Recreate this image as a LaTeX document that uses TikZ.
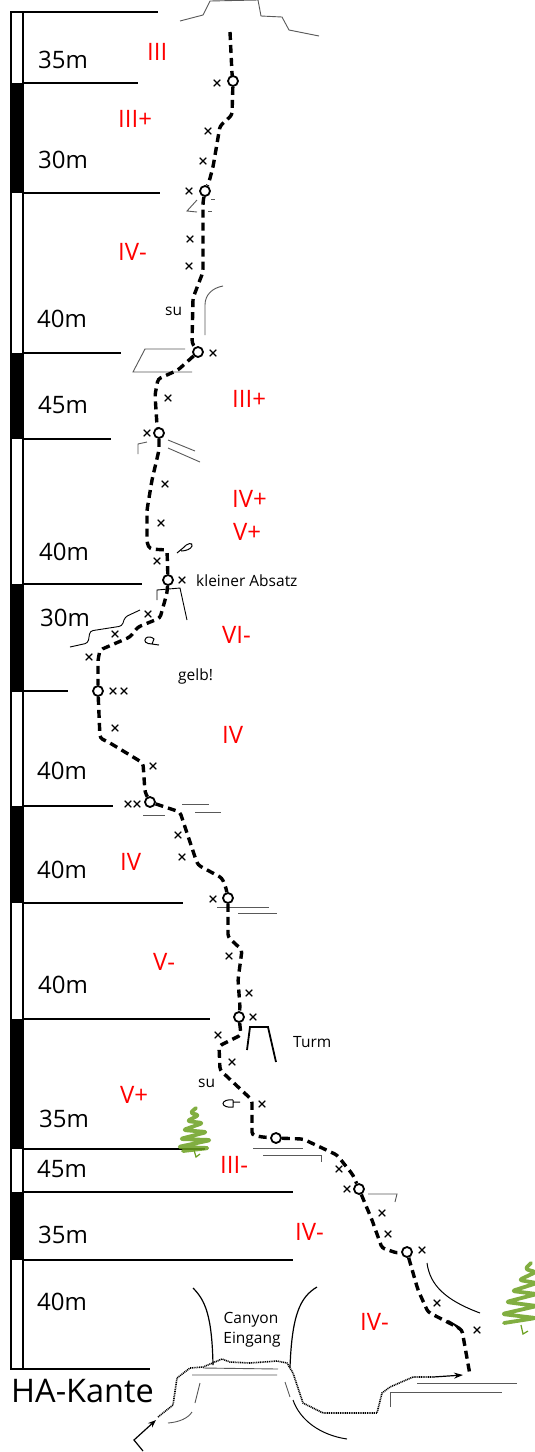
\documentclass[tikz,border=0pt]{standalone}
\usepackage{fontspec}
\setmainfont{Open Sans}
\usetikzlibrary{shapes.misc,arrows.meta}
\definecolor{grade}{RGB}{255,0,0}
\definecolor{treegreen}{RGB}{108,160,32}
\begin{document}
\begin{tikzpicture}[x=1pt,y=-1pt,
  bar/.style={line width=1.2pt},
  dist/.style={anchor=base west,inner sep=0pt,font=\fontsize{24}{24}\selectfont},
  gradelabel/.style={anchor=base west,inner sep=0pt,text=grade,font=\fontsize{24}{24}\selectfont},
  note/.style={anchor=base west,inner sep=0pt,font=\fontsize{15.5}{16}\selectfont},
  route/.style={line width=3.4pt,dash pattern=on 8pt off 5pt,rounded corners=3pt},
  belay/.style={circle,draw,line width=1.8pt,fill=white,minimum size=10pt,inner sep=0pt},
  bolt/.style={cross out,draw,line width=1.1pt,minimum size=5.5pt,inner sep=0pt},
  rock/.style={line width=0.9pt,black!65},
  wall/.style={line width=1.2pt},
  approach/.style={line width=1.6pt,dash pattern=on 1pt off 0.8pt},
  tree/.style={treegreen,line width=3.8pt,line cap=round,line join=round,rounded corners=3pt,opacity=0.85}
]
\useasboundingbox (0,0) rectangle (535,1452);
\fill[white] (0,0) rectangle (535,1452);

% ---- length scale on the left ----
\draw[bar] (11,12) rectangle (23,1369);
\foreach \a/\b in {83/193,353/439,584/692,806/903,1019/1149,1192/1260}
  \fill (11,\a) rectangle (23,\b);
\draw[bar] (11,12) -- (158,12);
\foreach \yy/\xx in {83/138,193/160,353/121,439/111,584/142,691/68,806/113,903/183,1019/210,1149/205,1192/293,1260/293}
  \draw[bar] (23,\yy) -- (\xx,\yy);
\draw[bar] (11,1369) -- (150,1369);

\node[dist] (d1) at (38,68) {35m};
\node[dist] (d2) at (38,168) {30m};
\node[dist] (d3) at (37,327) {40m};
\node[dist] (d4) at (38,413) {45m};
\node[dist] (d5) at (39,560) {40m};
\node[dist] (d6) at (40,626) {30m};
\node[dist] (d7) at (37,779) {40m};
\node[dist] (d8) at (37,878) {40m};
\node[dist] (d9) at (38,993) {40m};
\node[dist] (d10) at (39,1127) {35m};
\node[dist] (d11) at (37,1177) {45m};
\node[dist] (d12) at (38,1243) {35m};
\node[dist] (d13) at (37,1310) {40m};
\node[anchor=base west,inner sep=0pt,font=\fontsize{32.5}{33}\selectfont] (start) at (11,1402) {HA-Kante};

% ---- grades ----
\node[gradelabel] (g1) at (147,60) {III};
\node[gradelabel] (g2) at (118,127) {III+};
\node[gradelabel] (g3) at (118,260) {IV-};
\node[gradelabel] (g4) at (232,407) {III+};
\node[gradelabel] (g5) at (232,507) {IV+};
\node[gradelabel] (g6) at (233,540) {V+};
\node[gradelabel] (g7) at (222,643) {VI-};
\node[gradelabel] (g8) at (222,743) {IV};
\node[gradelabel] (g9) at (120,870) {IV};
\node[gradelabel] (g10) at (153,970) {V-};
\node[gradelabel] (g11) at (120,1103) {V+};
\node[gradelabel] (g12) at (220,1173) {III-};
\node[gradelabel] (g13) at (295,1240) {IV-};
\node[gradelabel] (g14) at (360,1330) {IV-};

% ---- notes ----
\node[note] (n1) at (165,315) {su};
\node[note] (n2) at (196,586) {kleiner Absatz};
\node[note] (n3) at (178,680) {gelb!};
\node[note] (n4) at (293,1047) {Turm};
\node[note] (n5) at (198,1087) {su};
\node[note,anchor=base] (n6) at (251,1323) {Canyon};
\node[note,anchor=base] (n7) at (252,1343) {Eingang};

% ---- rock features ----
\draw[rock] (180,21) -- (203,15) -- (210,1) -- (258,0) -- (261,16) -- (282,17) -- (289,30) -- (319,36);
\draw[rock] (197,200) -- (187,211) -- (197,212);
\draw[rock] (211,199) -- (215,199) (208,211) -- (212,211);
\draw[rock] (223,286) .. controls (212,288) and (205,295) .. (205,305) -- (205,335);
\draw[rock] (185,349) -- (145,349) -- (133,372) -- (192,372);
\draw[rock] (147,442) -- (138,444) -- (138,454);
\draw[rock] (168,440) -- (195,451) (168,448) -- (200,462);
\draw[line width=0.9pt] (157,600) -- (157,590) -- (180,588) -- (187,620);
\draw[line width=0.9pt,rounded corners=3pt] (70,647) -- (88,643) -- (90,631) -- (122,626) -- (125,617) -- (140,610);
\draw[rock] (143,815) -- (165,815) (182,804) -- (209,804) (195,812) -- (221,812);
\draw[rock] (217,907) -- (269,907) (238,913) -- (277,913);
\draw[line width=1.8pt] (247,1050) -- (250,1027) -- (268,1027) -- (276,1062);
\draw[rock] (253,1148) -- (303,1148) (263,1155) -- (321,1155) -- (321,1162);
\draw[rock] (368,1194) -- (397,1194) -- (395,1202);
\draw[line width=1pt] (427,1263) .. controls (430,1285) and (445,1300) .. (480,1313);
\draw[rock] (417,1383) -- (517,1383) (390,1407) -- (390,1392) -- (502,1392);

% sling symbols
\draw[line width=1pt] (177,553) -- (183,548) .. controls (187,543) and (193,542) .. (192,546) .. controls (191,549) and (186,551) .. (181,551);
\draw[line width=1pt] (159,645) -- (152,644) .. controls (146,644) and (143,641) .. (146,638) .. controls (148,636) and (152,637) .. (154,639) -- (152,644);
\draw[line width=1pt] (233,1100) -- (233,1107) .. controls (228,1108) and (223,1106) .. (223,1103.5) .. controls (223,1101) and (228,1099) .. (233,1100) (233,1102) -- (240,1102);

% canyon entrance
\draw[wall] (193,1288) .. controls (205,1300) and (212,1315) .. (213,1365);
\draw[wall] (317,1287) .. controls (300,1297) and (292,1315) .. (290,1367);
\draw[rock] (203,1368) -- (278,1369) (192,1375) -- (277,1375);
\draw[rock] (200,1383) -- (195,1403);
\draw[rock] (192,1412) .. controls (188,1418) and (180,1422) .. (168,1423);
\draw[rock] (285,1382) -- (290,1397);
\draw[line width=1pt] (293,1400) .. controls (300,1420) and (320,1435) .. (347,1439);

% ---- trees ----
\draw[tree] (196,1108) -- (190,1113) -- (199,1115) -- (187,1121) -- (203,1123) -- (183,1130) -- (207,1132) -- (180,1139) -- (211,1140) -- (178,1147) -- (209,1148) -- (183,1151);
\draw[treegreen,line width=1.2pt] (194,1150) -- (196,1157) -- (200,1154);
\draw[tree] (531,1263) -- (525,1269) -- (536,1272) -- (519,1280) -- (537,1283) -- (512,1291) -- (537,1294) -- (506,1302) -- (537,1306) -- (502,1314) -- (536,1318) -- (504,1323);
\draw[treegreen,line width=1.2pt] (521,1325) -- (523,1334) -- (528,1331);

% ---- belays ----
\node[belay] (b1) at (233,81) {};
\node[belay] (b2) at (205,191) {};
\node[belay] (b3) at (198,352) {};
\node[belay] (b4) at (159,433) {};
\node[belay] (b5) at (168,580) {};
\node[belay] (b6) at (98,691) {};
\node[belay] (b7) at (150,802) {};
\node[belay] (b8) at (228,898) {};
\node[belay] (b9) at (239,1017) {};
\node[belay] (b10) at (276,1138) {};
\node[belay] (b11) at (359,1189) {};
\node[belay] (b12) at (407,1252) {};
\coordinate (top) at (230,32);
\coordinate (foot) at (470,1375);

% ---- route ----
\draw[route] (top) -- (232,74) -- (b1);
\draw[route] (b1) -- (232,115) -- (220,126) -- (213,167) -- (209,182) -- (b2);
\draw[route] (b2) -- (203,202) -- (203,272) -- (193,298) -- (192,343) -- (b3);
\draw[route] (b3) -- (178,370) -- (158,379) -- (155,395) -- (157,425) -- (b4);
\draw[route] (b4) -- (159,450) -- (152,480) -- (147,510) -- (147,543) -- (150,549) -- (167,550) -- (b5);
\draw[route] (b5) -- (167,593) -- (160,618) -- (138,627) -- (130,637) -- (100,650) -- (98,660) -- (b6);
\draw[route] (b6) -- (100,738) -- (110,743) -- (143,763) -- (145,792) -- (b7);
\draw[route] (b7) -- (180,812) -- (195,857) -- (198,865) -- (222,878) -- (226,888) -- (b8);
\draw[route] (b8) -- (228,937) -- (242,950) -- (238,980) -- (240,1007) -- (b9);
\draw[route] (b9) -- (241,1035) -- (219,1046) -- (220,1070) -- (252,1100) -- (252,1135) -- (262,1137) -- (b10);
\draw[route] (b10) -- (303,1139) -- (337,1155) -- (353,1175) -- (b11);
\draw[route] (b11) -- (372,1220) -- (382,1248) -- (397,1253) -- (b12);
\draw[route] (b12) -- (418,1290) -- (428,1312) -- (457,1327) -- (462,1330) -- (foot);

% ---- bolts ----
\foreach \px/\py [count=\k] in {217/83,208/131,203/161,189/191,190/239,189/266,213/353,168/398,147/433,165/484,161/523,157/561,182/580,148/614,115/634,89/657,113/691,124/691,115/728,153/766,128/804,137/804,178/835,182/857,213/899,229/956,249/993,253/1017,218/1035,232/1062,262/1104,339/1169,347/1189,382/1213,388/1234,422/1250,437/1303,477/1330}
  \node[bolt] (x\k) at (\px,\py) {};

% ---- approach ----
\coordinate (a0) at (143,1451);
\coordinate (a1) at (134,1440);
\coordinate (a2) at (156,1420);
\coordinate (a3) at (433,1377);
\coordinate (a4) at (463,1375);
\draw[line width=1.2pt,-{Stealth[length=8pt,width=6pt]}] (a0) -- (a1) -- (a2);
\draw[approach] (158,1417) -- (173,1405) -- (177,1378) -- (190,1368) -- (203,1367) -- (222,1359) -- (230,1362) -- (250,1363) -- (277,1361) -- (287,1363) -- (293,1373) -- (303,1403) -- (323,1413) -- (377,1413) -- (382,1393) -- (390,1387) -- (413,1377) -- (a3);
\draw[line width=1.2pt,-{Stealth[length=9pt,width=6pt]}] (a3) -- (a4);
\end{tikzpicture}
\end{document}
